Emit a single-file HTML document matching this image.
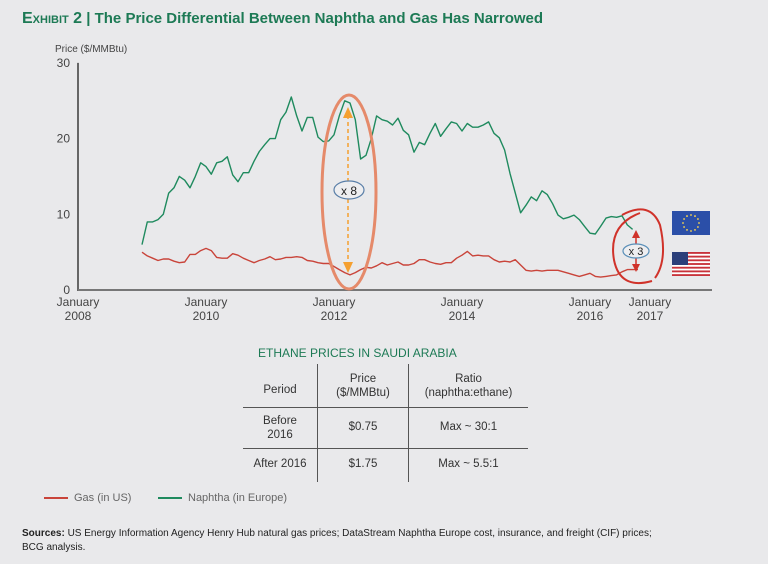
<!DOCTYPE html>
<html><head><meta charset="utf-8"><style>
html,body{margin:0;padding:0;background:#e9e9eb;}
body{width:768px;height:564px;overflow:hidden;font-family:"Liberation Sans",sans-serif;color:#333;position:relative}
.t{position:absolute;white-space:nowrap}
</style></head><body>
<div class="t" style="left:22px;top:10px;font-size:15px;font-weight:bold;color:#1d7a55"><span style="font-variant:small-caps;font-size:16px">Exhibit 2</span> | The Price Differential Between Naphtha and Gas Has Narrowed</div>
<svg id="chart" width="768" height="564" style="position:absolute;left:0;top:0" font-family="Liberation Sans, sans-serif"></svg>
<script>
const gas=[5.0,4.5,4.2,3.9,4.1,4.1,3.8,3.6,3.7,4.7,4.7,5.2,5.5,5.2,4.3,4.2,4.2,4.8,4.6,4.2,3.9,3.6,3.9,4.1,4.4,4.0,4.1,4.3,4.3,4.4,4.3,3.9,3.8,3.6,3.5,3.5,3.1,2.7,2.3,2.0,2.3,2.7,3.0,2.9,3.2,3.6,3.3,
3.5,3.7,3.3,3.3,3.5,4.0,4.0,3.7,3.5,3.4,3.6,3.6,4.2,4.6,5.1,4.5,4.6,4.5,4.5,4.0,3.7,3.8,3.7,4.0,3.3,2.6,2.5,2.6,2.5,2.6,2.6,2.6,2.4,2.2,2.0,1.8,2.0,2.2,1.8,1.7,1.8,1.9,2.0,2.4,2.7,2.7,2.7];
const naphtha=[6.0,9.0,9.0,9.3,10,12.8,13.5,15,14.5,13.5,15,16.8,16.3,15.3,16.8,17,17.6,15.2,14.3,15.5,15.5,17,18.3,19.2,20,20,22.5,23.5,25.5,23,21,22.8,22.8,20.2,19.6,19.7,20.5,23,25,24.7,22.5,17.3,17.8,20,23,22.5,22.3,
21.8,22.7,21.1,20.5,18.2,19.5,19.2,20.7,22,20.3,21.3,22.2,22,21,22,21.5,21.5,21.8,22.2,20.7,20.1,18.5,15.4,12.8,10.2,11.2,12.3,11.8,13.1,12.6,11.4,9.9,9.4,9.6,9.9,9.3,8.4,7.5,7.4,8.4,9.5,9.7,9.6,9.8,8.6,8.0];
const yTicks=[0,10,20,30];
const xTicks=[["January","2008",0],["January","2010",24],["January","2012",48],["January","2014",72],["January","2016",96],["January","2017",108]];
const startMonth=12;
const NS="http://www.w3.org/2000/svg";
const svg=document.getElementById('chart');
const X0=78,PXM=5.333,Y0=290,PYU=7.57;
const xs=m=>X0+m*PXM, ys=v=>Y0-v*PYU;
function el(tag,at,txt){const e=document.createElementNS(NS,tag);for(const k in at)e.setAttribute(k,at[k]);if(txt!==undefined)e.textContent=txt;svg.appendChild(e);return e;}
let e;
e=el('line',{x1:X0,y1:ys(30),x2:X0,y2:Y0+1,stroke:'#666','stroke-width':2});


e=el('line',{x1:X0,y1:Y0,x2:712,y2:Y0,stroke:'#777','stroke-width':2});


e=el('text',{x:55,y:52,'font-size':10,fill:'#444'},'Price ($/MMBtu)');


yTicks.forEach(v=>{const t=el('text',{x:70,y:ys(v)+4,'font-size':12,fill:'#444','text-anchor':'end'},String(v));

});
xTicks.forEach(d=>{const x=xs(d[2])+(d[1]==='2017'?-4:0);
const t=el('text',{x:x,y:306,'font-size':12,fill:'#444','text-anchor':'middle'});


const a=document.createElementNS(NS,'tspan');a.setAttribute('x',x);a.textContent=d[0];t.appendChild(a);
const b=document.createElementNS(NS,'tspan');b.setAttribute('x',x);b.setAttribute('dy',14);b.textContent=d[1];t.appendChild(b);});
function line(arr,col,name){const p=arr.map((v,i)=>(i?'L':'M')+xs(startMonth+i).toFixed(1)+','+ys(v).toFixed(1)).join('');
const e=el('path',{d:p,fill:'none',stroke:col,'stroke-width':1.4,'stroke-linejoin':'round'});

}
line(naphtha,'#1f8a5e','naphtha-line');
line(gas,'#c9443a','gas-line');
e=el('ellipse',{cx:349,cy:192,rx:27,ry:97,fill:'none',stroke:'#e58a6a','stroke-width':3});


e=el('line',{x1:348,y1:115,x2:348,y2:268,stroke:'#f5a030','stroke-width':1.5,'stroke-dasharray':'4,3'});


el('path',{d:'M343,118 L348,107 L353,118Z',fill:'#f5a030'});
el('path',{d:'M343,262 L348,273 L353,262Z',fill:'#f5a030'});
e=el('ellipse',{cx:349,cy:190,rx:15,ry:9,fill:'#eeeef0',stroke:'#5a7fa8','stroke-width':1.2});


el('text',{x:349,y:195,'font-size':12,fill:'#222','text-anchor':'middle'},'x 8');
e=el('path',{d:'M622,215 Q650,200 660,225 Q668,260 655,278 M652,281 Q620,290 614,260 Q608,225 640,213',fill:'none',stroke:'#d0322a','stroke-width':2});


el('line',{x1:636,y1:236,x2:636,y2:268,stroke:'#d0322a','stroke-width':1.5});
el('path',{d:'M632,238 L636,230 L640,238Z',fill:'#d0322a'});
el('path',{d:'M632,264 L636,272 L640,264Z',fill:'#d0322a'});
e=el('ellipse',{cx:636,cy:251,rx:13,ry:7,fill:'#eeeef0',stroke:'#5a8fb8','stroke-width':1.2});


el('text',{x:636,y:255,'font-size':11,fill:'#222','text-anchor':'middle'},'x 3');
e=el('rect',{x:672,y:211,width:38,height:24,fill:'#2b4fa8'});


for(let k=0;k<12;k++){const a=k*Math.PI/6;el('circle',{cx:691+8*Math.cos(a),cy:223+8*Math.sin(a),r:0.9,fill:'#ffd94a'});}
e=el('rect',{x:672,y:252,width:38,height:24,fill:'#fff'});


for(let k=0;k<13;k+=2){el('rect',{x:672,y:252+k*24/13,width:38,height:24/13,fill:'#c8323a'});}
el('rect',{x:672,y:252,width:16,height:13,fill:'#2b3f7a'});
</script>
<div class="t" style="left:258px;top:346px;font-size:12px;color:#1d7a55">ETHANE PRICES IN SAUDI ARABIA</div>
<div style="position:absolute;left:243px;top:364px;width:285px;height:118px;font-size:11.5px;color:#333">
<div style="position:absolute;left:74px;top:0;width:1px;height:118px;background:#555"></div>
<div style="position:absolute;left:165px;top:0;width:1px;height:118px;background:#555"></div>
<div style="position:absolute;left:0;top:43px;width:285px;height:1px;background:#555"></div>
<div style="position:absolute;left:0;top:84px;width:285px;height:1px;background:#555"></div>
<div class="t" style="left:0;width:74px;text-align:center;top:20px">Period</div>
<div class="t" style="left:75px;width:90px;text-align:center;top:8px;line-height:14px">Price<br>($/MMBtu)</div>
<div class="t" style="left:166px;width:119px;text-align:center;top:8px;line-height:14px">Ratio<br>(naphtha:ethane)</div>
<div class="t" style="left:0;width:74px;text-align:center;top:50px;line-height:14px">Before<br>2016</div>
<div class="t" style="left:75px;width:90px;text-align:center;top:57px">$0.75</div>
<div class="t" style="left:166px;width:119px;text-align:center;top:57px">Max ~ 30:1</div>
<div class="t" style="left:0;width:74px;text-align:center;top:94px">After 2016</div>
<div class="t" style="left:75px;width:90px;text-align:center;top:94px">$1.75</div>
<div class="t" style="left:166px;width:119px;text-align:center;top:94px">Max ~ 5.5:1</div>
</div>
<div class="t" style="left:44px;top:492px;font-size:11px;color:#666"><span style="display:inline-block;width:24px;height:1.5px;background:#c9443a;vertical-align:middle;margin-right:6px"></span>Gas (in US)</div>
<div class="t" style="left:158px;top:492px;font-size:11px;color:#666"><span style="display:inline-block;width:24px;height:1.5px;background:#1f8a5e;vertical-align:middle;margin-right:6px"></span>Naphtha (in Europe)</div>
<div class="t" style="left:22px;top:527px;font-size:10px;color:#222;line-height:14px"><b>Sources:</b> US Energy Information Agency Henry Hub natural gas prices; DataStream Naphtha Europe cost, insurance, and freight (CIF) prices;<br>BCG analysis.</div>
</body></html>
